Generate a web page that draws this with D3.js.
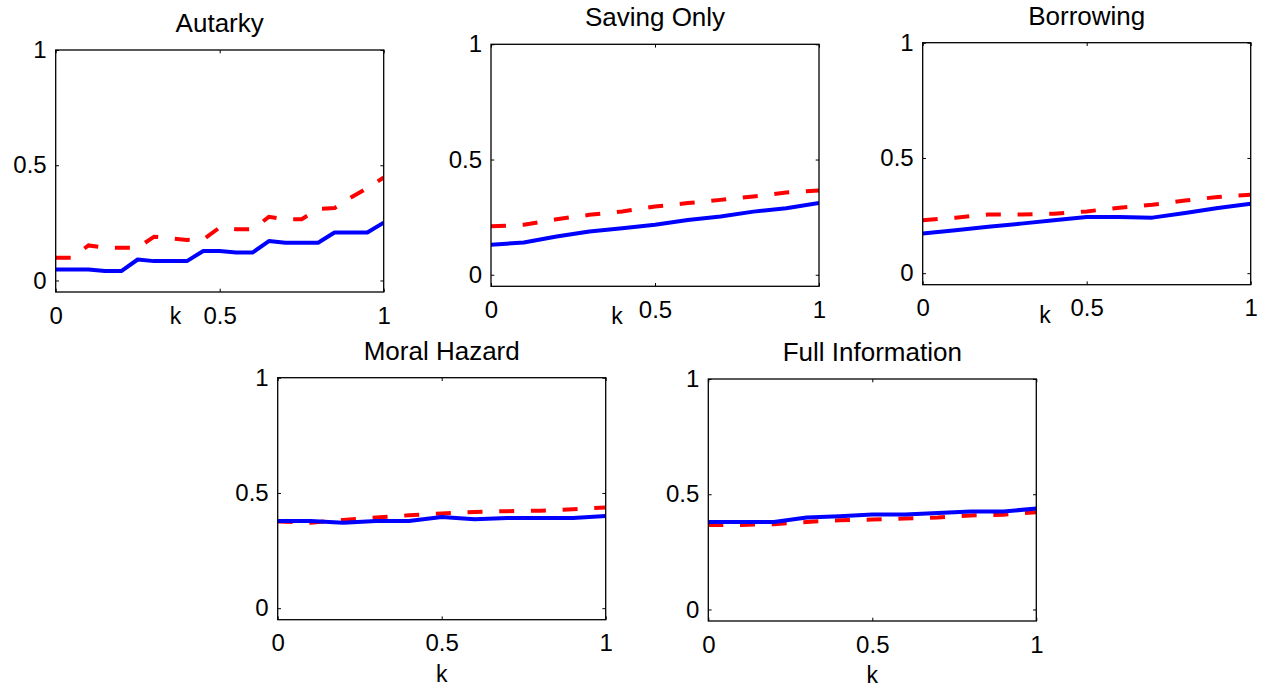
<!DOCTYPE html>
<html>
<head>
<meta charset="utf-8">
<script src="https://cdn.jsdelivr.net/npm/d3@7"></script>
<style>
  body { margin: 0; background: #fff; }
  svg text { font-family: "Liberation Sans", Arial, sans-serif; fill: #000; }
</style>
</head>
<body>
<div id="chart"></div>
<script>
// x values (k)
var kFine = [0, 0.05, 0.1, 0.15, 0.2, 0.25, 0.3, 0.35, 0.4, 0.45, 0.5,
             0.55, 0.6, 0.65, 0.7, 0.75, 0.8, 0.85, 0.9, 0.95, 1];
var kCoarse = [0, 0.1, 0.2, 0.3, 0.4, 0.5, 0.6, 0.7, 0.8, 0.9, 1];

var panelTitles = ["Autarky", "Saving Only", "Borrowing", "Moral Hazard", "Full Information"];
var tickValues = [0, 0.5, 1];

// blue solid / red dashed series per panel
var autarkyBlue = [0.048, 0.048, 0.048, 0.041, 0.041, 0.091, 0.084, 0.084, 0.084, 0.128, 0.128,
                   0.121, 0.121, 0.171, 0.164, 0.164, 0.164, 0.208, 0.208, 0.208, 0.251];
var autarkyRed  = [0.099, 0.099, 0.152, 0.142, 0.142, 0.142, 0.190, 0.183, 0.176, 0.178, 0.230,
                   0.222, 0.222, 0.276, 0.266, 0.266, 0.310, 0.314, 0.360, 0.401, 0.447];
var savingBlue = [0.130, 0.140, 0.166, 0.188, 0.202, 0.217, 0.238, 0.253, 0.274, 0.289, 0.311];
var savingRed  = [0.210, 0.217, 0.241, 0.260, 0.275, 0.296, 0.311, 0.325, 0.340, 0.357, 0.366];
var borrowBlue = [0.172, 0.186, 0.201, 0.215, 0.230, 0.244, 0.244, 0.241, 0.261, 0.283, 0.301];
var borrowRed  = [0.230, 0.241, 0.255, 0.255, 0.258, 0.268, 0.284, 0.297, 0.315, 0.331, 0.340];
var moralBlue = [0.378, 0.378, 0.371, 0.378, 0.378, 0.396, 0.386, 0.391, 0.391, 0.391, 0.400];
var moralRed  = [0.376, 0.371, 0.383, 0.393, 0.403, 0.411, 0.417, 0.421, 0.423, 0.429, 0.437];
var fullBlue = [0.380, 0.380, 0.380, 0.399, 0.405, 0.412, 0.412, 0.419, 0.425, 0.425, 0.438];
var fullRed  = [0.367, 0.367, 0.370, 0.380, 0.387, 0.390, 0.395, 0.399, 0.408, 0.411, 0.422];

var width = 1265, height = 688;
var pw = 328, ph = 242;

// layout of each subplot (left, top, k label x in data units, k label baseline offset)
var panels = [
  {left: 55.7,  top: 50,    k: kFine,   blue: autarkyBlue, red: autarkyRed, kx: 0.365, kdy: 32},
  {left: 491,   top: 44.3,  k: kCoarse, blue: savingBlue,  red: savingRed,  kx: 0.384, kdy: 38},
  {left: 922.7, top: 42.7,  k: kCoarse, blue: borrowBlue,  red: borrowRed,  kx: 0.373, kdy: 38},
  {left: 277.7, top: 377.7, k: kCoarse, blue: moralBlue,   red: moralRed,   kx: 0.5,   kdy: 62},
  {left: 708.3, top: 379,   k: kCoarse, blue: fullBlue,    red: fullRed,    kx: 0.5,   kdy: 62}
];

var svg = d3.select("#chart").append("svg")
    .attr("width", width)
    .attr("height", height);

panels.forEach(function(p, i) {
  var g = svg.append("g")
      .attr("transform", "translate(" + p.left + "," + p.top + ")");

  var x = d3.scaleLinear().domain([0, 1]).range([0, pw]);
  var y = d3.scaleLinear().domain([-0.05, 1]).range([ph, 0]);

  // title
  g.append("text")
      .attr("x", pw / 2)
      .attr("y", -18)
      .attr("text-anchor", "middle")
      .attr("font-size", "26px")
      .text(panelTitles[i]);

  // axes with inward ticks
  var fmt = function(d) { return String(d); };
  g.append("g").attr("class", "ax")
      .attr("transform", "translate(0," + ph + ")")
      .call(d3.axisBottom(x).tickValues(tickValues).tickFormat(fmt)
            .tickSizeInner(-3.3).tickSizeOuter(0).tickPadding(14.5));
  g.append("g").attr("class", "ax")
      .call(d3.axisLeft(y).tickValues(tickValues).tickFormat(fmt)
            .tickSizeInner(-3.3).tickSizeOuter(0).tickPadding(9));
  g.append("g").attr("class", "ax")
      .call(d3.axisTop(x).tickValues(tickValues).tickFormat("")
            .tickSizeInner(-3.3).tickSizeOuter(0));
  g.append("g").attr("class", "ax")
      .attr("transform", "translate(" + pw + ",0)")
      .call(d3.axisRight(y).tickValues(tickValues).tickFormat("")
            .tickSizeInner(-3.3).tickSizeOuter(0));

  g.selectAll(".ax .domain").remove();
  g.selectAll(".ax text").attr("font-size", "24px")
      .style("font-family", "'Liberation Sans', Arial, sans-serif")
      .attr("fill", "#000");
  g.selectAll(".ax line").attr("stroke", "#000").attr("stroke-width", 1);

  // clip so thick lines stop at the box
  svg.append("clipPath").attr("id", "clip" + i)
      .append("rect").attr("width", pw).attr("height", ph);

  var line = d3.line()
      .x(function(d, j) { return x(p.k[j]); })
      .y(function(d) { return y(d); });

  var plot = g.append("g").attr("clip-path", "url(#clip" + i + ")");

  plot.append("path")
      .datum(p.red)
      .attr("d", line)
      .attr("fill", "none")
      .attr("stroke", "#ff0000")
      .attr("stroke-width", 4)
      .attr("stroke-dasharray", "15,16.7");

  plot.append("path")
      .datum(p.blue)
      .attr("d", line)
      .attr("fill", "none")
      .attr("stroke", "#0000ff")
      .attr("stroke-width", 4)
      .attr("stroke-linejoin", "round");

  // box
  g.append("rect")
      .attr("width", pw)
      .attr("height", ph)
      .attr("fill", "none")
      .attr("stroke", "#000")
      .attr("stroke-width", 1.3);

  // x label
  g.append("text")
      .attr("x", x(p.kx))
      .attr("y", ph + p.kdy)
      .attr("text-anchor", "middle")
      .attr("font-size", "23px")
      .text("k");
});
</script>
</body>
</html>
